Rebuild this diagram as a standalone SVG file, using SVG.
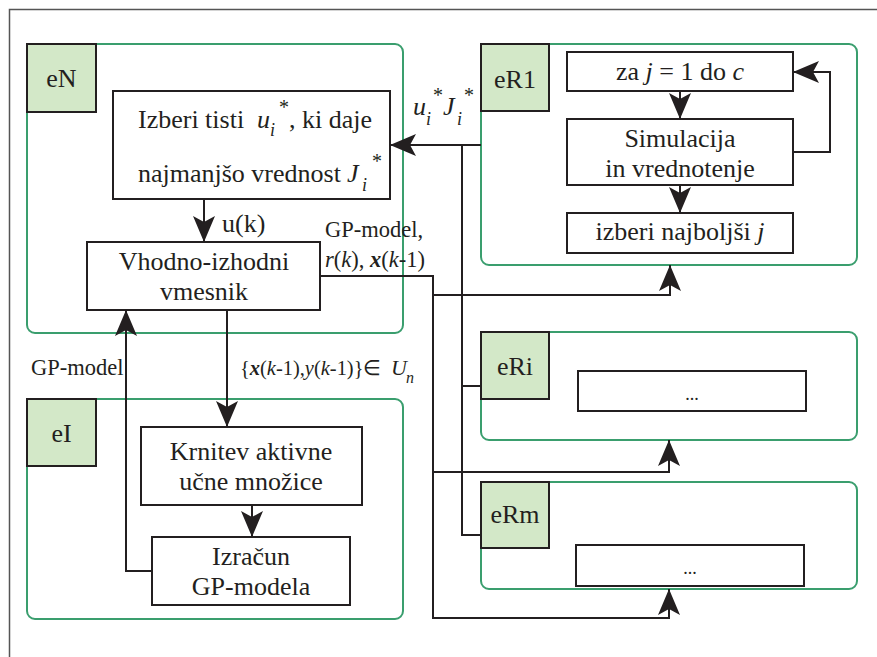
<svg xmlns="http://www.w3.org/2000/svg" width="877" height="657" viewBox="0 0 877 657">
<defs>
<style>
text{font-family:"Liberation Serif","Times New Roman",serif;fill:#231f20}
.t{font-size:26px}
.m{text-anchor:middle}
.lab{font-size:26px;text-anchor:middle}
.sm{font-size:22.5px}
.grp{fill:#fff;stroke:#3a9e6e;stroke-width:2}
.tag{fill:#d3e8c8;stroke:#231f20;stroke-width:2}
.box{fill:#fff;stroke:#231f20;stroke-width:2}
.c{fill:none;stroke:#231f20;stroke-width:2}
.it{font-style:italic}
</style>
<marker id="ah" viewBox="0 0 26 22" refX="26" refY="11" markerWidth="26" markerHeight="22" markerUnits="userSpaceOnUse" orient="auto">
<path d="M0,0 L26,11 L0,22 L6,11 Z" fill="#231f20"/>
</marker>
</defs>
<rect width="877" height="657" fill="#fff"/>
<path d="M9.5,657 V9.5 H877" fill="none" stroke="#555" stroke-width="1.5"/>

<g id="eN">
<rect class="grp" x="27" y="44" width="376" height="289" rx="8"/>
<rect class="tag" x="27" y="44" width="69" height="68"/>
<text class="lab" x="61.5" y="87">eN</text>
</g>
<g id="izberi">
<rect class="box" x="113" y="91" width="277" height="108"/>
<text class="t" x="138" y="128" font-size="26.5">Izberi tisti <tspan class="it" x="257">u</tspan><tspan class="it" x="270" y="136" font-size="18">i</tspan><tspan x="279" y="114" font-size="20">*</tspan><tspan x="289" y="128">, ki daje</tspan></text>
<text class="t" x="138" y="182" font-size="26.5">najmanjšo vrednost <tspan class="it" x="347">J</tspan><tspan class="it" x="362" y="191" font-size="18">i</tspan><tspan x="372" y="168" font-size="20">*</tspan></text>
</g>
<g id="vhodno">
<rect class="box" x="87" y="242" width="233" height="68"/>
<text class="t m" x="204" y="270">Vhodno-izhodni</text>
<text class="t m" x="204" y="300">vmesnik</text>
</g>

<g id="eI">
<rect class="grp" x="27" y="399" width="376" height="220" rx="8"/>
<rect class="tag" x="27" y="399" width="69" height="67"/>
<text class="lab" x="61.5" y="442">eI</text>
</g>
<g id="krnitev">
<rect class="box" x="141" y="427" width="221" height="78"/>
<text class="t m" x="251" y="460">Krnitev aktivne</text>
<text class="t m" x="251" y="490">učne množice</text>
</g>
<g id="izracun">
<rect class="box" x="152" y="537" width="198" height="68"/>
<text class="t m" x="251" y="565">Izračun</text>
<text class="t m" x="251" y="595">GP-modela</text>
</g>

<g id="eR1">
<rect class="grp" x="481" y="44" width="376" height="221" rx="8"/>
<rect class="tag" x="481" y="44" width="68" height="67"/>
<text class="lab" x="515" y="88">eR1</text>
</g>
<g id="zaj">
<rect class="box" x="567" y="52" width="226" height="39"/>
<text class="t m" x="680" y="80">za <tspan class="it">j</tspan> = 1 do <tspan class="it">c</tspan></text>
</g>
<g id="simulacija">
<rect class="box" x="567" y="119" width="226" height="66"/>
<text class="t m" x="680" y="147">Simulacija</text>
<text class="t m" x="680" y="177">in vrednotenje</text>
</g>
<g id="najboljsi">
<rect class="box" x="567" y="213" width="226" height="40"/>
<text class="t m" x="680" y="240">izberi najboljši <tspan class="it">j</tspan></text>
</g>

<g id="eRi">
<rect class="grp" x="481" y="332" width="376" height="108" rx="8"/>
<rect class="tag" x="481" y="332" width="68" height="67"/>
<text class="lab" x="515" y="375">eRi</text>
<rect class="box" x="578" y="371" width="228" height="40"/>
<text class="m" x="692" y="400" font-size="18">...</text>
</g>
<g id="eRm">
<rect class="grp" x="481" y="482" width="376" height="107" rx="8"/>
<rect class="tag" x="481" y="482" width="68" height="66"/>
<text class="lab" x="515" y="523">eRm</text>
<rect class="box" x="576" y="545" width="228" height="41"/>
<text class="m" x="690" y="574" font-size="18">...</text>
</g>

<g id="connectors">
<path class="c" d="M204,199 V242" marker-end="url(#ah)"/>
<path class="c" d="M227,310 V427" marker-end="url(#ah)"/>
<path class="c" d="M252,505 V537" marker-end="url(#ah)"/>
<path class="c" d="M152,571 H126 V310" marker-end="url(#ah)"/>
<path class="c" d="M320,276 H433 V618 H669 V589" marker-end="url(#ah)"/>
<path class="c" d="M433,295 H670 V265" marker-end="url(#ah)"/>
<path class="c" d="M433,472 H669 V440" marker-end="url(#ah)"/>
<path class="c" d="M481,145 H390" marker-end="url(#ah)"/>
<path class="c" d="M462,145 V535 H481 M462,386 H481"/>
<path class="c" d="M680,91 V119" marker-end="url(#ah)"/>
<path class="c" d="M680,185 V213" marker-end="url(#ah)"/>
<path class="c" d="M793,152 H830 V72 H793" marker-end="url(#ah)"/>
</g>

<g id="labels">
<text font-size="26" x="222" y="232">u(k)</text>
<text class="sm" x="325" y="237">GP-model,</text>
<text class="sm" x="325" y="267"><tspan class="it">r</tspan>(<tspan class="it">k</tspan>), <tspan class="it" font-weight="bold">x</tspan>(<tspan class="it">k</tspan>-1)</text>
<text class="sm" x="31" y="375">GP-model</text>
<text font-size="21" x="240" y="375" textLength="141" lengthAdjust="spacingAndGlyphs">{<tspan class="it" font-weight="bold">x</tspan>(<tspan class="it">k</tspan>-1),<tspan class="it">y</tspan>(<tspan class="it">k</tspan>-1)}∈</text>
<text class="it" font-size="22" x="391" y="375">U</text>
<text class="it" font-size="16" x="406" y="383">n</text>
<text class="t it" x="413" y="115">u</text>
<text class="it" x="426" y="125" font-size="18">i</text>
<text x="433" y="102" font-size="20">*</text>
<text class="t it" x="443" y="115">J</text>
<text class="it" x="457" y="125" font-size="18">i</text>
<text x="464" y="102" font-size="20">*</text>
</g>
</svg>
